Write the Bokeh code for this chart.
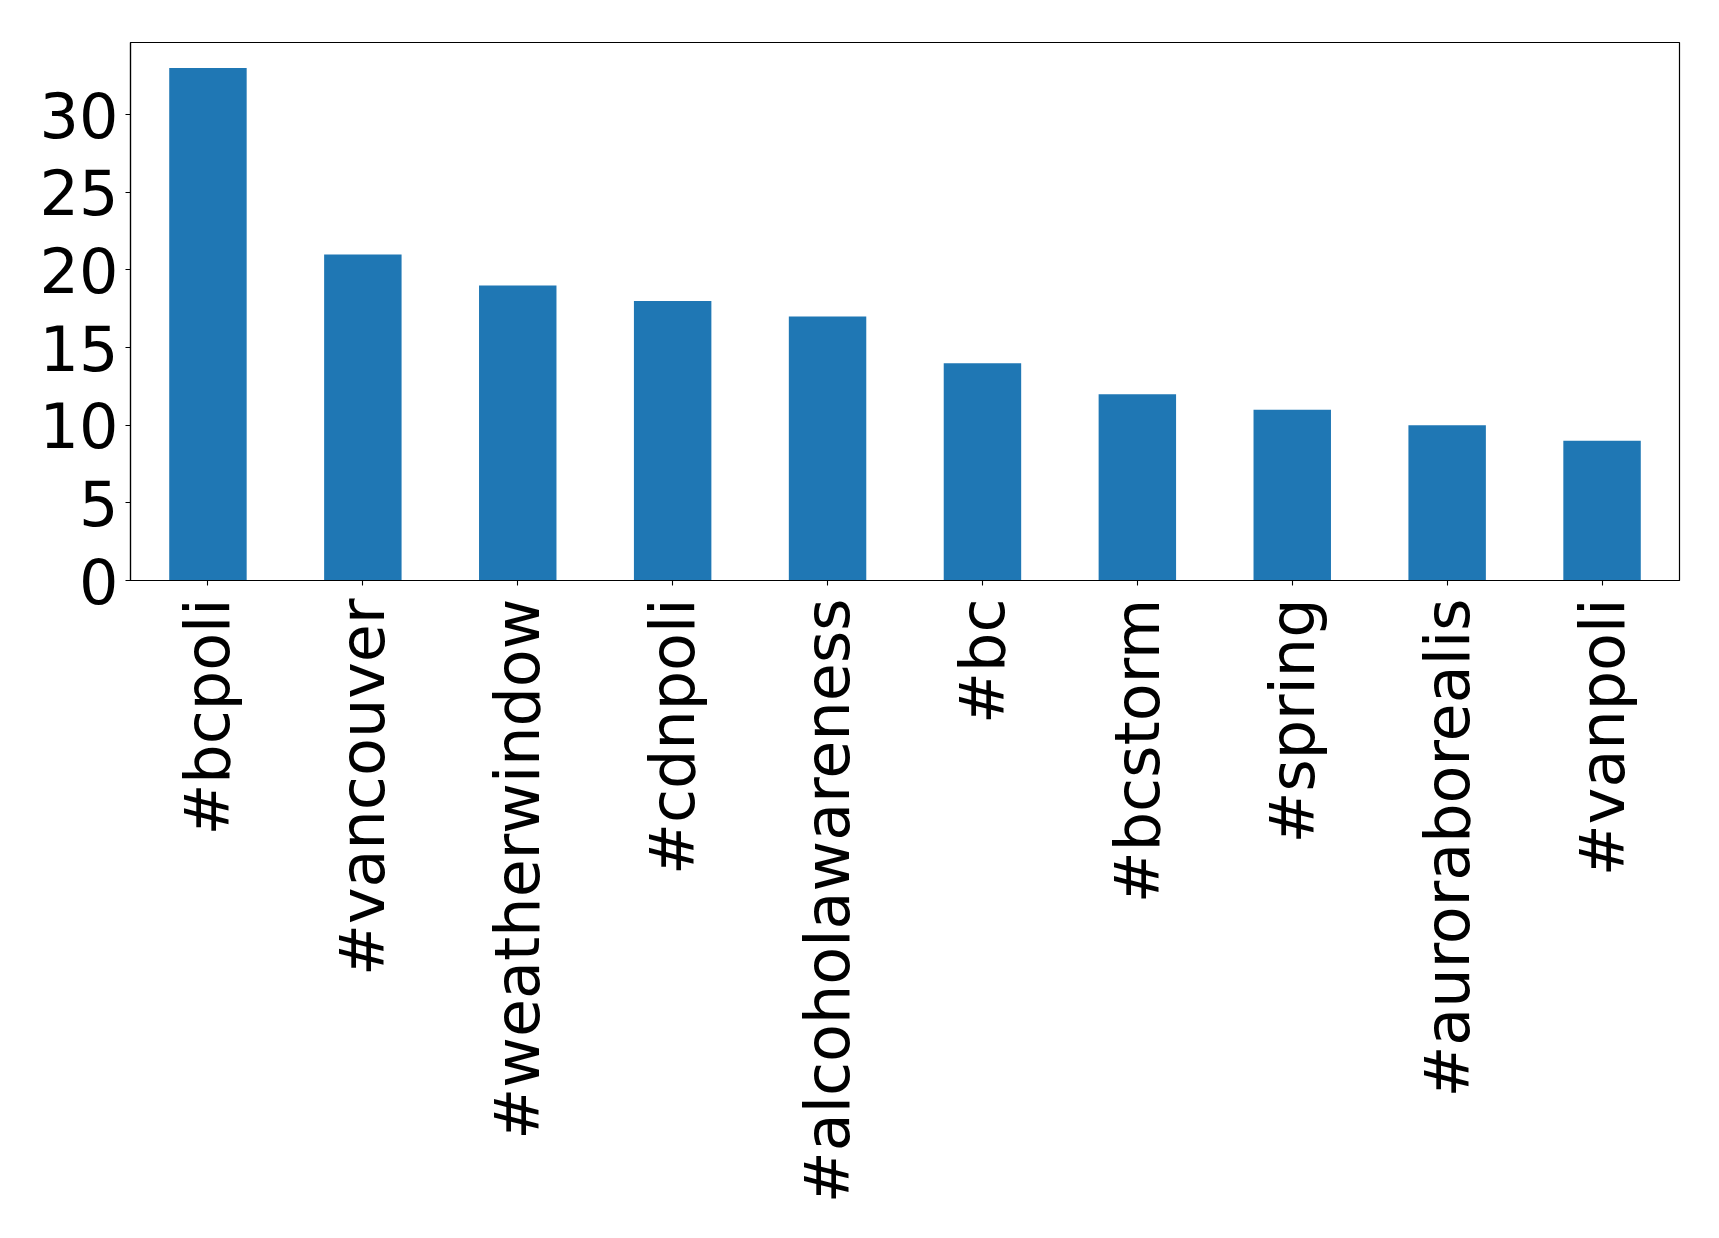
import math
from bokeh.plotting import figure
from bokeh.models import FactorRange, Range1d, FixedTicker
from bokeh.embed import file_html
from bokeh.resources import INLINE

hashtags = ["#bcpoli", "#vancouver", "#weatherwindow", "#cdnpoli", "#alcoholawareness",
            "#bc", "#bcstorm", "#spring", "#auroraborealis", "#vanpoli"]
counts = [33, 21, 19, 18, 17, 14, 12, 11, 10, 9]
y_ticks = [0, 5, 10, 15, 20, 25, 30]

p = figure(
    x_range=FactorRange(*hashtags, range_padding=0),
    y_range=Range1d(0, max(counts) * 1.05),
    width=1703, height=1222,
    min_border_left=130, min_border_right=24,
    min_border_top=42, min_border_bottom=642,
    output_backend="svg", toolbar_location=None,
)

p.vbar(x=hashtags, top=counts, width=0.5, color="#1f77b4", line_color=None)

p.xgrid.visible = False
p.ygrid.visible = False
p.outline_line_color = "black"
p.outline_line_width = 1.2
p.background_fill_color = "white"
p.border_fill_color = "white"

for ax in (p.xaxis[0], p.yaxis[0]):
    ax.axis_line_color = "black"
    ax.axis_line_width = 1.2
    ax.major_tick_line_color = "black"
    ax.major_tick_line_width = 1.1
    ax.major_tick_out = 5
    ax.major_tick_in = 0
    ax.minor_tick_line_color = None
    ax.major_label_text_font = "DejaVu Sans"
    ax.major_label_text_font_size = "62px"
    ax.major_label_text_color = "black"

p.yaxis[0].ticker = FixedTicker(ticks=y_ticks)
p.yaxis[0].major_label_standoff = 7
p.xaxis[0].major_label_orientation = math.pi / 2
p.xaxis[0].major_label_standoff = 13

open("out.html", "w").write(file_html(p, INLINE))
